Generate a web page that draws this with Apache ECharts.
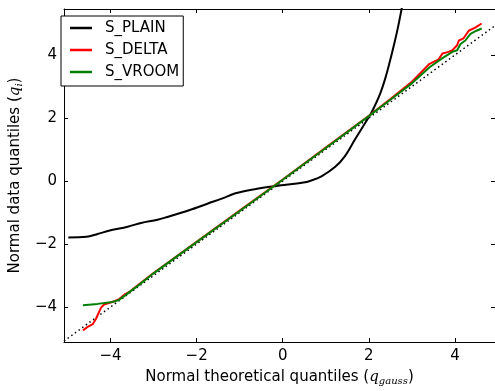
<!DOCTYPE html>
<html>
<head>
<meta charset="utf-8">
<script src="https://cdn.jsdelivr.net/npm/echarts@6/dist/echarts.min.js"></script>
<style>html,body{margin:0;padding:0;background:#fff}#c{width:495px;height:391px}</style>
</head>
<body>
<div id="c"></div>
<script>
var seriesNames = ['S_PLAIN', 'S_DELTA', 'S_VROOM'];
var tickValues = [-4, -2, 0, 2, 4];

var plainX = [-4.98, -4.56, -4.3, -4.04, -3.6, -3.29, -2.91, -2.68, -2.16, -1.75, -1.4, -1.1, -0.65, -0.16, 0.48, 0.63, 0.9, 1.22, 1.45, 1.67, 1.85, 2.04, 2.15, 2.27, 2.38, 2.48, 2.58, 2.68, 2.78];
var plainY = [-1.79, -1.77, -1.68, -1.58, -1.45, -1.33, -1.23, -1.14, -0.92, -0.72, -0.55, -0.39, -0.26, -0.16, -0.05, 0.0, 0.15, 0.45, 0.8, 1.3, 1.7, 2.12, 2.42, 2.8, 3.25, 3.75, 4.3, 4.9, 5.6];

var deltaX = [-4.64, -4.52, -4.41, -4.34, -4.22, -4.15, -3.96, -3.81, -3.66, -3.55, -3.36, -3.0, -2.0, -1.0, 0.0, 1.0, 2.0, 2.5, 3.0, 3.41, 3.62, 3.71, 3.85, 3.94, 4.05, 4.09, 4.2, 4.32, 4.47, 4.62];
var deltaY = [-4.74, -4.62, -4.54, -4.38, -4.02, -3.92, -3.84, -3.76, -3.59, -3.51, -3.3, -2.92, -1.93, -0.94, 0.05, 1.06, 2.07, 2.6, 3.15, 3.72, 3.86, 4.05, 4.1, 4.15, 4.31, 4.46, 4.53, 4.77, 4.87, 5.0];

var vroomX = [-4.64, -4.3, -3.96, -3.81, -3.66, -3.36, -3.0, -2.0, -1.0, 0.0, 1.0, 2.0, 2.5, 3.0, 3.41, 3.71, 3.94, 4.05, 4.13, 4.24, 4.36, 4.5, 4.62];
var vroomY = [-3.94, -3.9, -3.84, -3.78, -3.63, -3.32, -2.93, -1.94, -0.95, 0.04, 1.05, 2.06, 2.58, 3.1, 3.61, 3.9, 4.1, 4.15, 4.35, 4.46, 4.67, 4.77, 4.84];

var refX = [-5.08, 4.93];
var refY = [-5.08, 4.93];

var xMin = -5.08, xMax = 4.93, yMin = -5.11, yMax = 5.46;

function pairs(xs, ys) { return xs.map(function (x, i) { return [x, ys[i]]; }); }

var FONT = 'DejaVu Sans';
var FS = 15;
var rich = {
  q: { fontFamily: 'DejaVu Serif', fontStyle: 'italic', fontSize: FS, color: '#000' },
  s: { fontFamily: 'DejaVu Serif', fontStyle: 'italic', fontSize: 10, color: '#000', padding: [7, 0, 0, 0] }
};

function tickAxis(pos, isX, show) {
  return {
    type: 'value', position: pos, min: isX ? xMin : yMin, max: isX ? xMax : yMax,
    axisLine: { show: true, onZero: false, lineStyle: { color: '#000', width: 1 } },
    axisTick: { show: true, inside: true, length: 4, customValues: tickValues, lineStyle: { color: '#000', width: 1 } },
    axisLabel: { show: show, customValues: tickValues, fontFamily: FONT, fontSize: FS, color: '#000', margin: 7,
      formatter: function (v) { return v < 0 ? '\u2212' + Math.abs(v) : String(v); } },
    splitLine: { show: false }
  };
}

var x0 = tickAxis('bottom', true, true);
x0.name = 'Normal theoretical quantiles ({q|q}{s|gauss})';
x0.nameLocation = 'middle';
x0.nameGap = 27;
x0.nameTextStyle = { fontFamily: FONT, fontSize: FS, color: '#000', rich: rich };
var x1 = tickAxis('top', true, false);

var y0 = tickAxis('left', false, true);
y0.name = 'Normal data quantiles ({q|q}{s|i})';
y0.nameLocation = 'middle';
y0.nameGap = 37;
y0.nameTextStyle = { fontFamily: FONT, fontSize: FS, color: '#000', rich: rich };
var y1 = tickAxis('right', false, false);

function lineSeries(name, data, color) {
  return { name: name, type: 'line', data: data, showSymbol: false, symbol: 'none', clip: true,
    lineStyle: { color: color, width: 2 }, itemStyle: { color: color }, animation: false };
}

var option = {
  animation: false,
  grid: { left: 54, top: 9, width: 443, height: 343, containLabel: false },
  xAxis: [x0, x1],
  yAxis: [y0, y1],
  legend: {
    data: seriesNames, orient: 'vertical', left: 61, top: 16,
    padding: [4, 4, 6, 9], itemGap: 6, itemWidth: 22, itemHeight: 2.5, icon: 'rect',
    backgroundColor: '#fff', borderColor: '#000', borderWidth: 1,
    textStyle: { fontFamily: FONT, fontSize: FS, color: '#000', lineHeight: 16, padding: [0, 0, 0, 8] }
  },
  series: [
    { name: 'ref', type: 'line', data: pairs(refX, refY), showSymbol: false, symbol: 'none', z: 1,
      lineStyle: { color: '#000', width: 1.5, type: [1.5, 3] } },
    lineSeries(seriesNames[0], pairs(plainX, plainY), '#000000'),
    lineSeries(seriesNames[1], pairs(deltaX, deltaY), '#ff0000'),
    lineSeries(seriesNames[2], pairs(vroomX, vroomY), '#008000')
  ]
};
option.series[1].smooth = 0.35;
var chart = echarts.init(document.getElementById('c'), null, { renderer: 'canvas' });
chart.setOption(option);
</script>
</body>
</html>
